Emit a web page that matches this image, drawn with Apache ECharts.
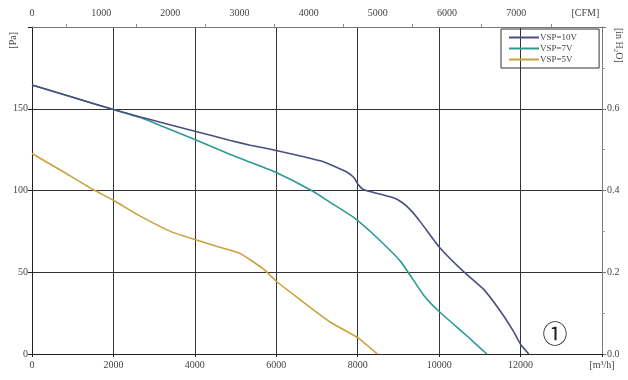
<!DOCTYPE html>
<html><head><meta charset="utf-8">
<script src="https://cdn.jsdelivr.net/npm/echarts@6/dist/echarts.min.js"></script>
<style>html,body{margin:0;padding:0;background:#fff}#c{width:628px;height:380px}</style>
</head><body><div id="c"></div>
<script>
const seriesNames = ['VSP=10V', 'VSP=7V', 'VSP=5V'];
const vsp10 = [[0,164.5],[1000,157],[2000,149.5],[2660,145],[3150,141.8],[4000,136.3],[4871,130.6],[5360,127.7],[6000,124.5],[6700,120.5],[7100,118],[7450,114.5],[7750,111],[7920,107.5],[8000,104],[8140,100.6],[8390,98.8],[8880,95.5],[9100,92.5],[9300,88],[9550,80.5],[10000,65.5],[10600,50.4],[11100,39.4],[11510,26],[11830,13.7],[12000,6],[12200,0]];
const vsp7 = [[0,164.5],[1000,157],[2000,149.5],[2660,144.6],[3150,139.8],[4000,131.2],[4871,122],[5360,117.3],[6000,111],[6910,99.4],[7330,92.6],[7900,83.5],[8500,70.5],[9055,56.5],[9620,36],[10000,26],[10700,10.7],[11170,0]];
const vsp5 = [[0,122.6],[800,111],[1500,100.6],[2000,94],[2660,84.3],[3400,75],[4000,70],[4550,65.7],[5120,61.4],[5680,52],[6000,44.5],[6520,34.5],[7330,19.4],[8000,10],[8480,0]];
const flowTicks = [0, 2000, 4000, 6000, 8000, 10000, 12000];
const cfmTicks = [0, 1000, 2000, 3000, 4000, 5000, 6000, 7000];
const paTicks = [0, 50, 100, 150];
const inh2oTicks = [0.0, 0.2, 0.4, 0.6];
const colors = ['#4a4e82', '#2c9c92', '#c9a23e'];

const font = '"Liberation Serif", "DejaVu Serif", serif';
const lbl = {color: '#444', fontSize: 10, fontFamily: font};
const chart = echarts.init(document.getElementById('c'), null, {renderer: 'canvas'});
chart.setOption({
  animation: false,
  backgroundColor: '#fff',
  grid: {left: 32, right: 26, top: 27, bottom: 26, containLabel: false},
  legend: {
    orient: 'vertical', left: 501, top: 29,
    data: seriesNames,
    icon: 'rect', itemWidth: 30, itemHeight: 2, itemGap: 2,
    borderColor: '#333', borderWidth: 1, padding: [4, 22, 4, 8],
    textStyle: {color: '#444', fontSize: 9, fontFamily: font, padding: [0, 0, 0, -4]}
  },
  xAxis: [{
    type: 'value', position: 'bottom', min: 0, max: 14000, interval: 2000,
    axisLine: {show: true, lineStyle: {color: '#222', width: 1}},
    axisTick: {show: true, length: 3, lineStyle: {color: '#222'}},
    axisLabel: {...lbl, margin: 6, formatter: v => v === 14000 ? '[m\u00b3/h]' : (flowTicks.includes(v) ? String(v) : '')},
    splitLine: {show: true, lineStyle: {color: '#333', width: 1}}
  }, {
    type: 'value', position: 'top', min: 0, max: 8240, interval: 1000,
    axisLine: {show: true, onZero: false, lineStyle: {color: '#777', width: 1}},
    axisTick: {show: false},
    minorTick: {show: true, splitNumber: 2, length: 3, lineStyle: {color: '#888'}},
    axisLabel: {...lbl, margin: 9, formatter: v => v === 8000 ? '[CFM]' : (cfmTicks.includes(v) ? String(v) : '')},
    splitLine: {show: false}
  }],
  yAxis: [{
    type: 'value', position: 'left', min: 0, max: 200, interval: 50,
    axisLine: {show: true, lineStyle: {color: '#222', width: 1}},
    axisTick: {show: true, length: 4, lineStyle: {color: '#222'}},
    axisLabel: {...lbl, margin: 4, formatter: v => paTicks.includes(v) ? String(v) : ''},
    splitLine: {show: true, lineStyle: {color: '#333', width: 1}}
  }, {
    type: 'value', position: 'right', min: 0, max: 0.8, interval: 0.2,
    axisLine: {show: true, onZero: false, lineStyle: {color: '#777', width: 1}},
    axisTick: {show: true, length: 4, lineStyle: {color: '#777'}},
    minorTick: {show: true, splitNumber: 2, length: 3, lineStyle: {color: '#999'}},
    axisLabel: {...lbl, margin: 5, formatter: v => inh2oTicks.some(t => Math.abs(t - v) < 1e-6) ? v.toFixed(1) : ''},
    splitLine: {show: false}
  }],
  series: [
    {name: seriesNames[0], type: 'line', data: vsp10, smooth: 0.15, symbol: 'none', z: 5,
     lineStyle: {color: colors[0], width: 1.6}, itemStyle: {color: colors[0]}},
    {name: seriesNames[1], type: 'line', data: vsp7, smooth: 0.15, symbol: 'none', z: 4,
     lineStyle: {color: colors[1], width: 1.6}, itemStyle: {color: colors[1]}},
    {name: seriesNames[2], type: 'line', data: vsp5, smooth: 0.15, symbol: 'none', z: 4,
     lineStyle: {color: colors[2], width: 1.6}, itemStyle: {color: colors[2]}}
  ],
  graphic: [
    {type: 'text', left: 8, top: 32, rotation: Math.PI / 2,
     style: {text: '[Pa]', fill: '#444', font: '10px ' + font}},
    {type: 'text', x: 624, y: 28, rotation: -Math.PI / 2,
     style: {text: '[in H\u2082O]', fill: '#444', font: '10px ' + font}},
    {type: 'text', x: 555, y: 333,
     style: {text: '\u2460', fill: '#222', font: '25px "Noto Sans CJK SC", "DejaVu Sans", sans-serif', align: 'center', verticalAlign: 'middle'}}
  ]
});
</script>
</body></html>
